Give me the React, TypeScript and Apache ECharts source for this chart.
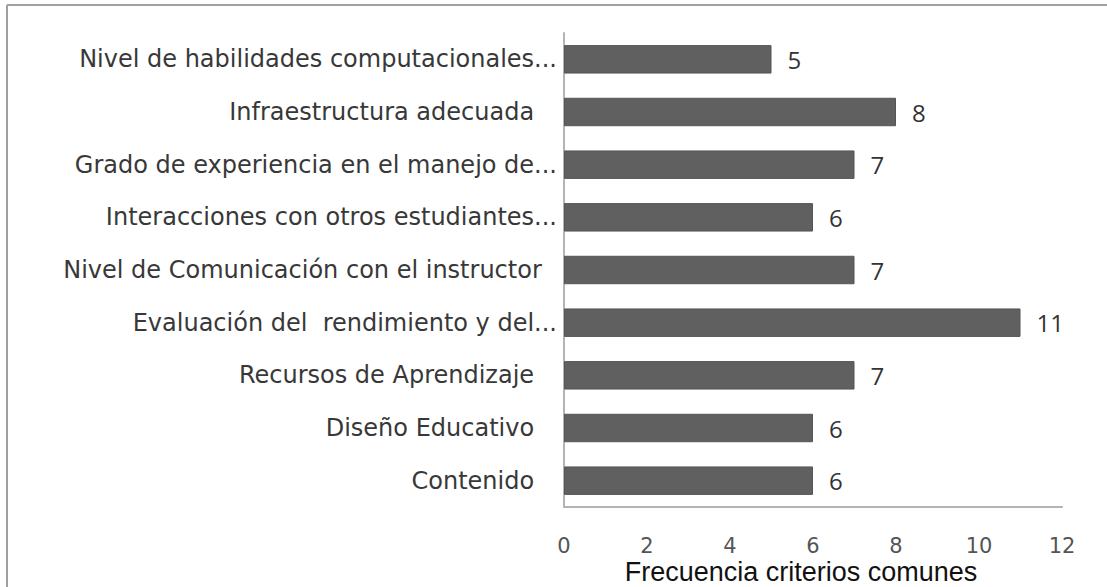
import React, { useEffect, useRef } from "react";
import * as echarts from "echarts";

const NB = "\u00a0";
const categories: string[] = [
  "Nivel de habilidades computacionales...",
  "Infraestructura adecuada" + NB.repeat(3),
  "Grado de experiencia en el manejo de...",
  "Interacciones con otros estudiantes...",
  "Nivel de Comunicación con el instructor" + NB.repeat(2),
  "Evaluación del" + NB + " rendimiento y del...",
  "Recursos de Aprendizaje" + NB.repeat(3),
  "Diseño Educativo" + NB.repeat(3),
  "Contenido" + NB.repeat(3),
];
const values: number[] = [5, 8, 7, 6, 7, 11, 7, 6, 6];
const xTicks = { min: 0, max: 12, interval: 2 };
const xTitle = "Frecuencia criterios comunes";

export default function App() {
  const ref = useRef<HTMLDivElement>(null);
  useEffect(() => {
    if (!ref.current) return;
    const chart = echarts.init(ref.current, undefined, { renderer: "svg" });
    chart.setOption({
      animation: false,
      backgroundColor: "#ffffff",
      grid: {
        left: 564,
        right: 45,
        top: 33,
        bottom: 80,
        containLabel: false,
        outerBoundsMode: "none",
      },
      xAxis: {
        type: "value",
        min: xTicks.min,
        max: xTicks.max,
        interval: xTicks.interval,
        splitLine: { show: false },
        axisTick: { show: false },
        axisLine: { show: true, lineStyle: { color: "#b4b4b4", width: 2 } },
        axisLabel: {
          margin: 29,
          color: "#555555",
          fontFamily: "DejaVu Sans",
          fontSize: 21,
          lineHeight: 19,
        },
        name: xTitle,
        nameLocation: "middle",
        nameGap: 52,
        nameMoveOverlap: false,
        nameTextStyle: {
          color: "#111111",
          fontFamily: "Liberation Sans",
          fontSize: 27,
          lineHeight: 25,
          padding: [0, 24, 0, 0],
        },
      },
      yAxis: {
        type: "category",
        data: categories,
        inverse: true,
        axisTick: { show: false },
        axisLine: { show: true, lineStyle: { color: "#b4b4b4", width: 2 } },
        axisLabel: {
          margin: 7,
          color: "#383838",
          fontFamily: "DejaVu Sans",
          fontSize: 24,
        },
      },
      series: [
        {
          type: "bar",
          data: values,
          barCategoryGap: "46%",
          itemStyle: { color: "#606060", borderColor: "#555555", borderWidth: 1 },
          label: {
            show: true,
            position: "right",
            distance: 16,
            color: "#333333",
            fontFamily: "Open Sans",
            fontSize: 24,
          },
        },
      ],
      graphic: [
        {
          type: "line",
          shape: { x1: 7, y1: 5, x2: 7, y2: 587 },
          style: { stroke: "#a0a0a0", lineWidth: 2 },
        },
        {
          type: "line",
          shape: { x1: 7, y1: 5, x2: 1107, y2: 5 },
          style: { stroke: "#a0a0a0", lineWidth: 2 },
        },
      ],
    });
    return () => chart.dispose();
  }, []);
  return (
    <div
      ref={ref}
      style={{ position: "fixed", left: 0, top: 0, width: 1107, height: 587 }}
    />
  );
}
